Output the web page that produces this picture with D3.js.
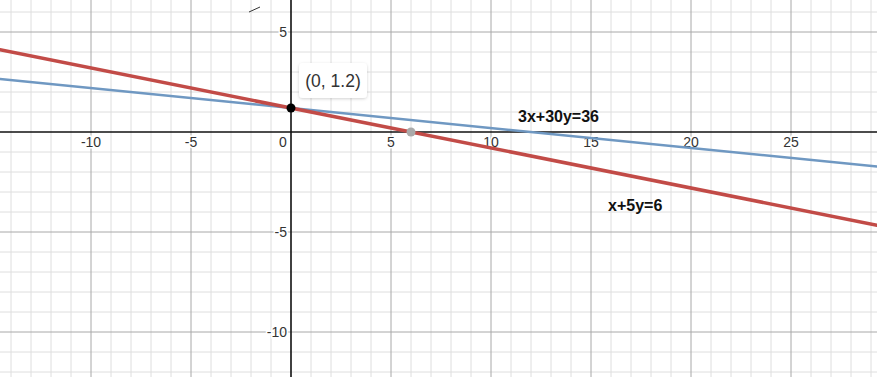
<!DOCTYPE html>
<html>
<head>
<meta charset="utf-8">
<script src="https://cdn.jsdelivr.net/npm/d3@7"></script>
<style>
  html, body { margin: 0; padding: 0; background: #fff; }
  svg { display: block; font-family: Arial, "Liberation Sans", sans-serif; }
</style>
</head>
<body>
<script>
// view window (graph units)
const xDomain = [-14.55, 29.3]
const yDomain = [-12.25, 6.6]

const xTicks = [-10, -5, 0, 5, 10, 15, 20, 25]
const yTicks = [5, -5, -10]

// lines as a*x + b*y = c
const lineNames = ['3x+30y=36', 'x+5y=6']
const lineCoefs = [[3, 30, 36], [1, 5, 6]]
const lineColors = ['#6f98c2', '#c24b47']
const lineWidths = [2.5, 3.5]
const labelPos = [[11.35, 0.5], [15.85, -3.95]]

const pointXs = [0, 6]
const pointYs = [1.2, 0]
const pointColors = ['#000', '#aaaaaa']

const W = 877, H = 377

const svg = d3.select('body').append('svg')
    .attr('width', W)
    .attr('height', H)

const x = d3.scaleLinear().domain(xDomain).range([0, W])
const y = d3.scaleLinear().domain(yDomain).range([H, 0])

// minor grid
const minorX = d3.range(Math.ceil(xDomain[0]), Math.floor(xDomain[1]) + 1)
const minorY = d3.range(Math.ceil(yDomain[0]), Math.floor(yDomain[1]) + 1)

svg.append('g').selectAll('line')
    .data(minorX.filter(d => d % 5 !== 0))
    .enter().append('line')
    .attr('x1', d => x(d)).attr('x2', d => x(d))
    .attr('y1', 0).attr('y2', H)
    .attr('stroke', '#dedede').attr('stroke-width', 1)

svg.append('g').selectAll('line')
    .data(minorY.filter(d => d % 5 !== 0))
    .enter().append('line')
    .attr('y1', d => y(d)).attr('y2', d => y(d))
    .attr('x1', 0).attr('x2', W)
    .attr('stroke', '#dedede').attr('stroke-width', 1)

// major grid
svg.append('g').selectAll('line')
    .data(minorX.filter(d => d % 5 === 0 && d !== 0))
    .enter().append('line')
    .attr('x1', d => x(d)).attr('x2', d => x(d))
    .attr('y1', 0).attr('y2', H)
    .attr('stroke', '#a8a8a8').attr('stroke-width', 1)

svg.append('g').selectAll('line')
    .data(minorY.filter(d => d % 5 === 0 && d !== 0))
    .enter().append('line')
    .attr('y1', d => y(d)).attr('y2', d => y(d))
    .attr('x1', 0).attr('x2', W)
    .attr('stroke', '#a8a8a8').attr('stroke-width', 1)

// axes
svg.append('line')
    .attr('x1', 0).attr('x2', W)
    .attr('y1', y(0)).attr('y2', y(0))
    .attr('stroke', '#111').attr('stroke-width', 1.6)
svg.append('line')
    .attr('x1', x(0)).attr('x2', x(0))
    .attr('y1', 0).attr('y2', H)
    .attr('stroke', '#111').attr('stroke-width', 1.6)

// tick labels
const haloText = (g) => g
    .attr('font-size', 14)
    .attr('fill', '#333')
    .attr('paint-order', 'stroke')
    .attr('stroke', '#fff')
    .attr('stroke-width', 3)

svg.append('g').selectAll('text')
    .data(xTicks)
    .enter().append('text')
    .attr('x', d => d === 0 ? x(0) - 8 : x(d))
    .attr('y', y(0) + 15)
    .attr('text-anchor', 'middle')
    .text(d => d < 0 ? '-' + Math.abs(d) : d)
    .call(haloText)

svg.append('g').selectAll('text')
    .data(yTicks)
    .enter().append('text')
    .attr('x', x(0) - 4)
    .attr('y', d => y(d) + 5)
    .attr('text-anchor', 'end')
    .text(d => d < 0 ? '-' + Math.abs(d) : d)
    .call(haloText)

// graph lines
lineCoefs.forEach((c, i) => {
    const f = v => (c[2] - c[0] * v) / c[1]
    svg.append('line')
        .attr('x1', x(xDomain[0])).attr('y1', y(f(xDomain[0])))
        .attr('x2', x(xDomain[1])).attr('y2', y(f(xDomain[1])))
        .attr('stroke', lineColors[i])
        .attr('stroke-width', lineWidths[i])
        .attr('stroke-linecap', 'round')
})

// line labels
svg.append('g').selectAll('text')
    .data(lineNames)
    .enter().append('text')
    .attr('x', (d, i) => x(labelPos[i][0]))
    .attr('y', (d, i) => y(labelPos[i][1]))
    .attr('font-size', 16)
    .attr('font-weight', 'bold')
    .attr('fill', '#111')
    .text(d => d)

// points
svg.append('g').selectAll('circle')
    .data(pointXs)
    .enter().append('circle')
    .attr('cx', d => x(d))
    .attr('cy', (d, i) => y(pointYs[i]))
    .attr('r', 4.5)
    .attr('fill', (d, i) => pointColors[i])

// tooltip box for the intercept
const defs = svg.append('defs')
const flt = defs.append('filter').attr('id', 'shadow')
    .attr('x', '-20%').attr('y', '-20%').attr('width', '140%').attr('height', '150%')
flt.append('feDropShadow')
    .attr('dx', 0).attr('dy', 1).attr('stdDeviation', 1.5)
    .attr('flood-color', '#000').attr('flood-opacity', 0.18)

const tip = svg.append('g')
    .attr('transform', `translate(${x(pointXs[0]) + 8},${y(pointYs[0]) - 45})`)
tip.append('rect')
    .attr('width', 68).attr('height', 35)
    .attr('rx', 4)
    .attr('fill', '#fff')
    .attr('filter', 'url(#shadow)')
tip.append('text')
    .attr('x', 34).attr('y', 24)
    .attr('text-anchor', 'middle')
    .attr('font-size', 17.5)
    .attr('fill', '#333')
    .text(`(${pointXs[0]}, ${pointYs[0]})`)

// small stray mark near the top
svg.append('line')
    .attr('x1', 249).attr('y1', 12)
    .attr('x2', 260).attr('y2', 7)
    .attr('stroke', '#333').attr('stroke-width', 1)
</script>
</body>
</html>
